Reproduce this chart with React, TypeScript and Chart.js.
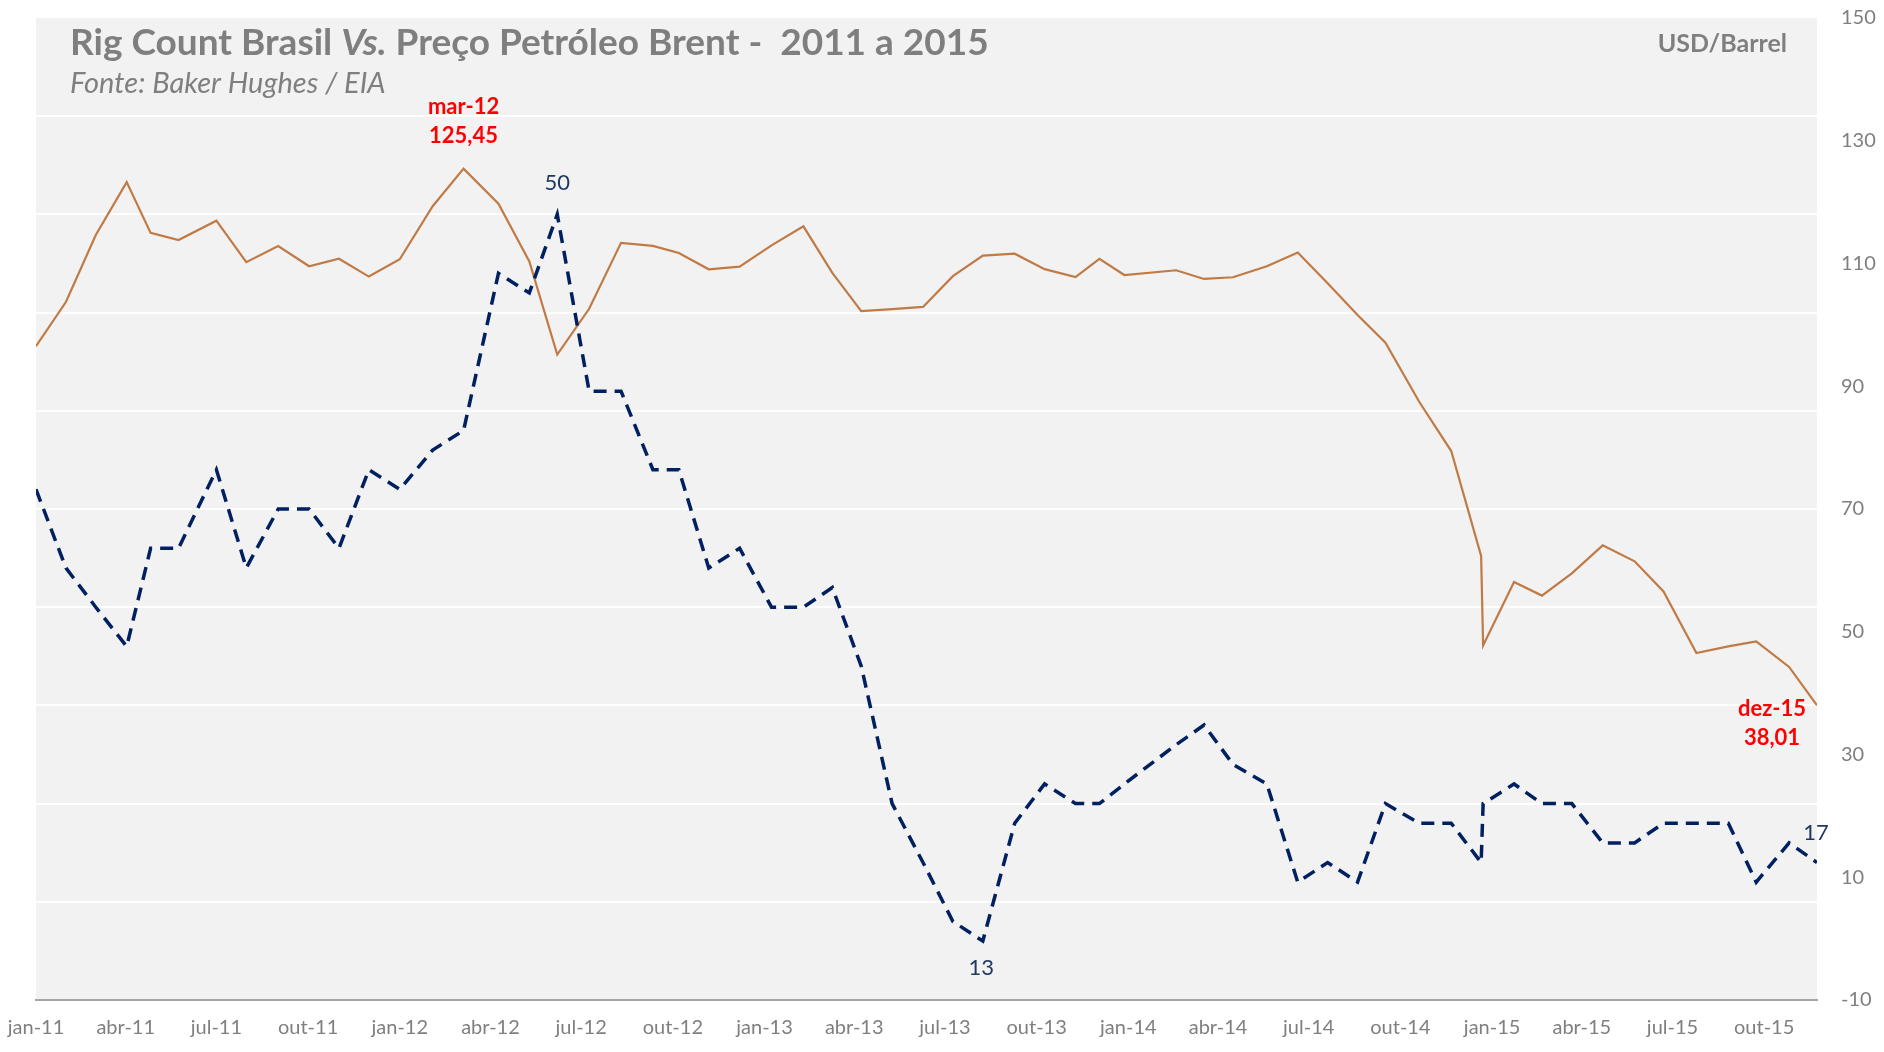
import React, { useEffect, useRef } from 'react';
import { Chart, registerables } from 'chart.js';

Chart.register(...registerables);

// ---------- data ----------
const monthNames = ['jan', 'fev', 'mar', 'abr', 'mai', 'jun', 'jul', 'ago', 'set', 'out', 'nov', 'dez'];
const years = ['11', '12', '13', '14', '15'];
const months = years.flatMap((y) => monthNames.map((m) => `${m}-${y}`));

// dates of the points on the (date) x axis
const pointDates = [
  '2011-01-01', '2011-01-31', '2011-03-02', '2011-04-02', '2011-04-26', '2011-05-24',
  '2011-07-01', '2011-07-31', '2011-09-01', '2011-10-02', '2011-11-01', '2011-12-01',
  '2012-01-01', '2012-02-03', '2012-03-05', '2012-04-09', '2012-05-10', '2012-06-07',
  '2012-07-09', '2012-08-10', '2012-09-11', '2012-10-07', '2012-11-06', '2012-12-07',
  '2013-01-08', '2013-02-09', '2013-03-10', '2013-04-08', '2013-05-09', '2013-06-09',
  '2013-07-09', '2013-08-08', '2013-09-09', '2013-10-09', '2013-11-09', '2013-12-03',
  '2013-12-28', '2014-02-18', '2014-03-18', '2014-04-16', '2014-05-20', '2014-06-20',
  '2014-07-20', '2014-08-19', '2014-09-16', '2014-10-20', '2014-11-21', '2014-12-21',
  '2014-12-23', '2015-01-23', '2015-02-20', '2015-03-22', '2015-04-22', '2015-05-24',
  '2015-06-22', '2015-07-25', '2015-08-26', '2015-09-23', '2015-10-26', '2015-11-23',
];

// Brent, USD/barrel (right axis)
const brent = [
  96.52, 103.72, 114.64, 123.26, 114.99, 113.83, 116.97, 110.22, 112.83, 109.55, 110.77, 107.87,
  110.69, 119.33, 125.45, 119.75, 110.34, 95.16, 102.62, 113.36, 112.86, 111.71, 109.06, 109.49,
  112.96, 116.05, 108.47, 102.25, 102.56, 102.92, 107.93, 111.28, 111.6, 109.08, 107.79, 110.76,
  108.12, 108.9, 107.48, 107.76, 109.54, 111.8, 106.77, 101.61, 97.09, 87.43, 79.44, 62.34,
  47.76, 58.1, 55.89, 59.52, 64.08, 61.48, 56.56, 46.52, 47.62, 48.43, 44.27, 38.01,
];

// Rig count Brasil (left, hidden axis)
const rigs = [
  36, 32, 30, 28, 33, 33, 37, 32, 35, 35, 33, 37,
  36, 38, 39, 47, 46, 50, 41, 41, 37, 37, 32, 33,
  30, 30, 31, 27, 20, 17, 14, 13, 19, 21, 20, 20,
  21, 23, 24, 22, 21, 16, 17, 16, 20, 19, 19, 17,
  20, 21, 20, 20, 18, 18, 19, 19, 19, 16, 18, 17,
];

const tickLabels = [
  'jan-11', 'abr-11', 'jul-11', 'out-11', 'jan-12', 'abr-12', 'jul-12', 'out-12',
  'jan-13', 'abr-13', 'jul-13', 'out-13', 'jan-14', 'abr-14', 'jul-14', 'out-14',
  'jan-15', 'abr-15', 'jul-15', 'out-15',
];

const rigAxis = { min: 10, max: 60, step: 5 };
const brentAxis = { min: -10, max: 150, step: 20 };

// ---------- helpers ----------
const ORIGIN = Date.UTC(2011, 0, 1);
const dayOf = (s: string) => {
  const [y, m, d] = s.split('-').map(Number);
  return (Date.UTC(y, m - 1, d) - ORIGIN) / 86400000;
};
const labelDay = (l: string) => {
  const [m, y] = l.split('-');
  return (Date.UTC(2000 + Number(y), monthNames.indexOf(m), 1) - ORIGIN) / 86400000;
};
const fmt = (v: number) => v.toFixed(2).replace('.', ',');

const FONT = 'Lato, "Open Sans", "Noto Sans", sans-serif';
const GREY = '#7f7f7f';
const BRENT_COLOR = '#c07a45';
const RIG_COLOR = '#002060';
const RIG_LABEL = '#1f3864';
const RED = '#ff0000';

const decor = {
  id: 'decor',
  beforeDraw(chart: any) {
    const { ctx, chartArea: a } = chart;
    ctx.save();
    ctx.fillStyle = '#f2f2f2';
    ctx.fillRect(a.left, a.top, a.right - a.left, a.bottom - a.top);
    ctx.restore();
  },
  afterDraw(chart: any) {
    const { ctx, chartArea: a, scales } = chart;
    const xs = scales.x;
    const yb = scales.yBrent;
    const yr = scales.yRig;
    ctx.save();
    ctx.textBaseline = 'alphabetic';
    ctx.fillStyle = GREY;

    // title with mixed styles
    const parts = [
      { t: 'Rig Count Brasil ', f: `bold 37px ${FONT}` },
      { t: 'Vs.', f: `italic bold 37px ${FONT}` },
      { t: ' Preço Petróleo Brent -  2011 a 2015', f: `bold 37px ${FONT}` },
    ];
    let x = a.left + 34;
    ctx.textAlign = 'left';
    for (const p of parts) {
      ctx.font = p.f;
      ctx.fillText(p.t, x, a.top + 37);
      x += ctx.measureText(p.t).width;
    }
    ctx.font = `italic 29px ${FONT}`;
    ctx.fillText('Fonte: Baker Hughes / EIA', a.left + 34, a.top + 75);

    ctx.font = `bold 25px ${FONT}`;
    ctx.textAlign = 'right';
    ctx.fillText('USD/Barrel', a.right - 30, a.top + 34);

    // data labels
    ctx.textAlign = 'center';
    ctx.textBaseline = 'middle';
    const px = (i: number) => xs.getPixelForValue(dayOf(pointDates[i]));

    const bMax = brent.indexOf(Math.max(...brent));
    const bLast = brent.length - 1;
    ctx.fillStyle = RED;
    ctx.font = `bold 22px ${FONT}`;
    let bx = px(bMax);
    let by = yb.getPixelForValue(brent[bMax]);
    ctx.fillText(months[bMax], bx, by - 62);
    ctx.fillText(fmt(brent[bMax]), bx, by - 33);
    bx = px(bLast);
    by = yb.getPixelForValue(brent[bLast]);
    ctx.fillText(months[bLast], bx - 45, by + 4);
    ctx.fillText(fmt(brent[bLast]), bx - 45, by + 33);

    ctx.fillStyle = RIG_LABEL;
    ctx.font = `22px ${FONT}`;
    const rMax = rigs.indexOf(Math.max(...rigs));
    const rMin = rigs.indexOf(Math.min(...rigs));
    const rLast = rigs.length - 1;
    ctx.fillText(String(rigs[rMax]), px(rMax), yr.getPixelForValue(rigs[rMax]) - 31);
    ctx.fillText(String(rigs[rMin]), px(rMin) - 1.5, yr.getPixelForValue(rigs[rMin]) + 27);
    ctx.fillText(String(rigs[rLast]), px(rLast) - 1, yr.getPixelForValue(rigs[rLast]) - 30);
    ctx.restore();
  },
};

export default function App() {
  const ref = useRef<HTMLCanvasElement | null>(null);

  useEffect(() => {
    document.body.style.margin = '0';
    const canvas = ref.current;
    if (!canvas) return;
    const xData = pointDates.map(dayOf);
    const chart = new Chart(canvas, {
      type: 'line',
      data: {
        datasets: [
          {
            label: 'Rig Count Brasil',
            data: rigs.map((v, i) => ({ x: xData[i], y: v })),
            yAxisID: 'yRig',
            borderColor: RIG_COLOR,
            borderWidth: 3.5,
            borderDash: [13, 8],
            pointRadius: 0,
            tension: 0,
            fill: false,
          },
          {
            label: 'Brent',
            data: brent.map((v, i) => ({ x: xData[i], y: v })),
            yAxisID: 'yBrent',
            borderColor: BRENT_COLOR,
            borderWidth: 2.2,
            pointRadius: 0,
            tension: 0,
            fill: false,
          },
        ],
      },
      options: {
        responsive: false,
        animation: false,
        devicePixelRatio: 1,
        layout: { padding: { left: 36, top: 18, right: 0, bottom: 0 } },
        plugins: {
          legend: { display: false },
          tooltip: { enabled: false },
          title: { display: false },
        },
        scales: {
          x: {
            type: 'linear',
            min: xData[0],
            max: xData[xData.length - 1],
            grid: { display: true, color: 'rgba(0,0,0,0)', drawTicks: true, tickLength: 16 },
            border: { display: true, color: '#a6a6a6', width: 2 },
            afterBuildTicks: (scale: any) => {
              scale.ticks = tickLabels.map((l) => ({ value: labelDay(l) }));
            },
            afterFit: (scale: any) => {
              scale.height = 52;
            },
            ticks: {
              autoSkip: false,
              maxRotation: 0,
              minRotation: 0,
              padding: 0,
              color: GREY,
              font: { family: FONT, size: 20 },
              callback: (_v: any, i: number) => tickLabels[i],
            },
          },
          yRig: {
            type: 'linear',
            position: 'left',
            min: rigAxis.min,
            max: rigAxis.max,
            afterFit: (scale: any) => {
              scale.width = 0;
            },
            ticks: { display: false, stepSize: rigAxis.step, padding: 0 },
            border: { display: false },
            grid: {
              drawTicks: false,
              lineWidth: 2,
              color: (c: any) =>
                c.tick && (c.tick.value === rigAxis.min || c.tick.value === rigAxis.max)
                  ? 'rgba(0,0,0,0)'
                  : '#ffffff',
            },
          },
          yBrent: {
            type: 'linear',
            position: 'right',
            min: brentAxis.min,
            max: brentAxis.max,
            afterFit: (scale: any) => {
              scale.width = 67;
            },
            grid: { display: false, drawTicks: true, tickLength: 24 },
            border: { display: false },
            ticks: {
              stepSize: brentAxis.step,
              padding: 0,
              color: GREY,
              font: { family: FONT, size: 20 },
            },
          },
        },
      },
      plugins: [decor],
    } as any);
    return () => chart.destroy();
  }, []);

  return (
    <div style={{ width: 1884, height: 1052 }}>
      <canvas ref={ref} width={1884} height={1052} style={{ display: 'block' }} />
    </div>
  );
}
